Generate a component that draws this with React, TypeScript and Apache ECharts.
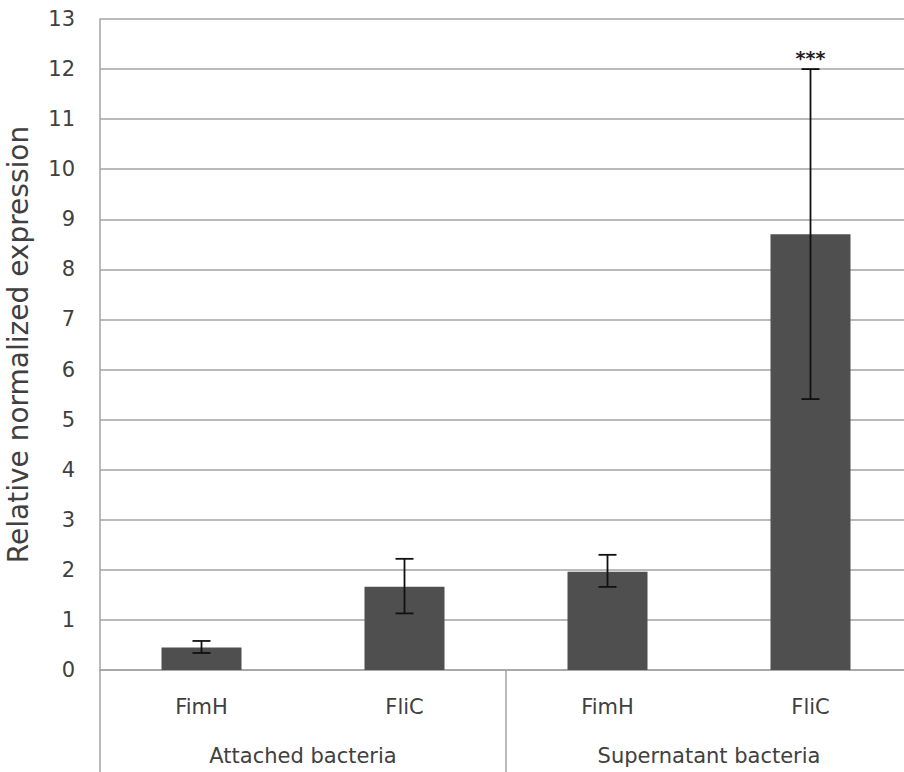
import React, { useEffect, useRef } from "react";
import * as echarts from "echarts";

const categories = ["FimH", "FliC", "FimH", "FliC"];
const groups = ["Attached bacteria", "Supernatant bacteria"];
const means = [0.45, 1.66, 1.96, 8.7];
const errLow = [0.34, 1.13, 1.66, 5.41];
const errHigh = [0.58, 2.22, 2.3, 12.0];
const sigLabels = ["", "", "", "***"];
const yTicks = { min: 0, max: 13, interval: 1 };
const yName = "Relative normalized expression";

const FONT = "DejaVu Sans";
const TEXT = "#404040";
const GRID = "#a3a3a3";

export default function App() {
  const ref = useRef<HTMLDivElement>(null);
  useEffect(() => {
    if (!ref.current) return;
    const chart = echarts.init(ref.current, null, { renderer: "svg" });
    const errData = categories.map((_, i) => [i, errLow[i], errHigh[i], sigLabels[i]]);
    chart.setOption({
      animation: false,
      grid: { left: 100, top: 19, bottom: 102, width: 812, outerBoundsMode: "none", containLabel: false },
      xAxis: [
        {
          type: "category",
          data: categories,
          position: "bottom",
          axisLine: { show: true, lineStyle: { color: GRID, width: 1.5 } },
          axisTick: { show: false },
          axisLabel: { color: TEXT, fontFamily: FONT, fontSize: 21, margin: 26 },
        },
        {
          type: "category",
          data: groups,
          position: "bottom",
          boundaryGap: true,
          axisLine: { show: false },
          axisTick: { show: true, length: 104, lineStyle: { color: GRID, width: 1.5 } },
          axisLabel: { color: TEXT, fontFamily: FONT, fontSize: 21, margin: 75 },
        },
      ],
      yAxis: {
        type: "value",
        min: yTicks.min,
        max: yTicks.max,
        interval: yTicks.interval,
        name: yName,
        nameLocation: "middle",
        nameGap: 68,
        nameTextStyle: { color: TEXT, fontFamily: FONT, fontSize: 28 },
        axisLine: { show: true, lineStyle: { color: GRID, width: 1.5 } },
        axisTick: { show: false },
        axisLabel: { color: TEXT, fontFamily: FONT, fontSize: 21, margin: 25 },
        splitLine: { show: true, lineStyle: { color: GRID, width: 1.5 } },
      },
      series: [
        {
          type: "bar",
          data: means,
          barWidth: 80,
          itemStyle: { color: "#4f4f4f" },
          xAxisIndex: 0,
        },
        {
          type: "custom",
          xAxisIndex: 0,
          data: errData,
          z: 10,
          renderItem: (params: any, api: any) => {
            const x = api.value(0);
            const lo = api.coord([x, api.value(1)]);
            const hi = api.coord([x, api.value(2)]);
            const label = sigLabels[params.dataIndex];
            const half = 9;
            const style = { stroke: "#111", lineWidth: 1.8 };
            const children: any[] = [
              { type: "line", shape: { x1: hi[0], y1: hi[1], x2: lo[0], y2: lo[1] }, style },
              { type: "line", shape: { x1: hi[0] - half, y1: hi[1], x2: hi[0] + half, y2: hi[1] }, style },
              { type: "line", shape: { x1: lo[0] - half, y1: lo[1], x2: lo[0] + half, y2: lo[1] }, style },
            ];
            if (label) {
              children.push({
                type: "text",
                x: hi[0],
                y: hi[1] - 11,
                style: {
                  text: label,
                  fill: "#222",
                  font: `bold 19px ${FONT}`,
                  textAlign: "center",
                  textVerticalAlign: "middle",
                },
              });
            }
            return { type: "group", children };
          },
        },
      ],
    });
    return () => chart.dispose();
  }, []);
  return <div ref={ref} style={{ width: 904, height: 772, position: "absolute", left: 0, top: 0 }} />;
}
